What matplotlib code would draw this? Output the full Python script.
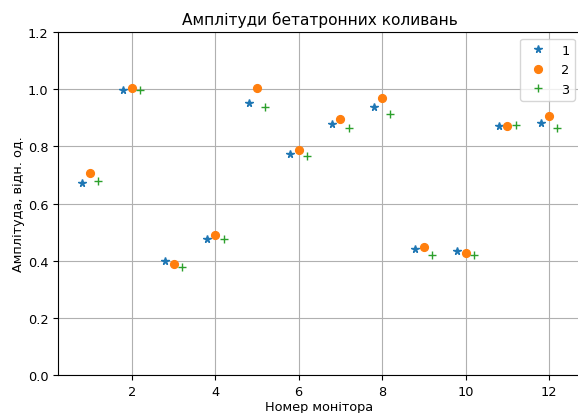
import numpy as np
import matplotlib
matplotlib.use("Agg")
import matplotlib.pyplot as plt

monitors = np.arange(1, 13)

amp_1 = [0.672, 0.999, 0.400, 0.477, 0.952, 0.772, 0.879, 0.937, 0.441, 0.435, 0.872, 0.883]
amp_2 = [0.707, 1.005, 0.389, 0.491, 1.005, 0.786, 0.896, 0.969, 0.448, 0.428, 0.872, 0.905]
amp_3 = [0.680, 0.999, 0.379, 0.477, 0.937, 0.765, 0.863, 0.912, 0.421, 0.421, 0.876, 0.865]

# the reference looks like a default figure shrunk by ~0.925
plt.rcParams["font.size"] = 9.25
plt.rcParams["axes.titlesize"] = 11.1
plt.rcParams["lines.markersize"] = 5.6

fig = plt.figure(figsize=(5.78, 4.14), dpi=100)
ax = fig.add_axes([0.1003, 0.0918, 0.905, 0.828])

ax.plot(monitors - 0.2, amp_1, "*", label="1")
ax.plot(monitors, amp_2, "o", label="2")
ax.plot(monitors + 0.2, amp_3, "+", label="3")

ax.set_ylim(0, 1.2)
ax.set_xticks([2, 4, 6, 8, 10, 12])
ax.set_xlabel("Номер монітора", labelpad=1.5)
ax.set_ylabel("Амплітуда, відн. од.", labelpad=2)
ax.set_title("Амплітуди бетатронних коливань")
ax.grid(True)
ax.legend(loc="upper right")

fig.savefig("out.png", dpi=100)
